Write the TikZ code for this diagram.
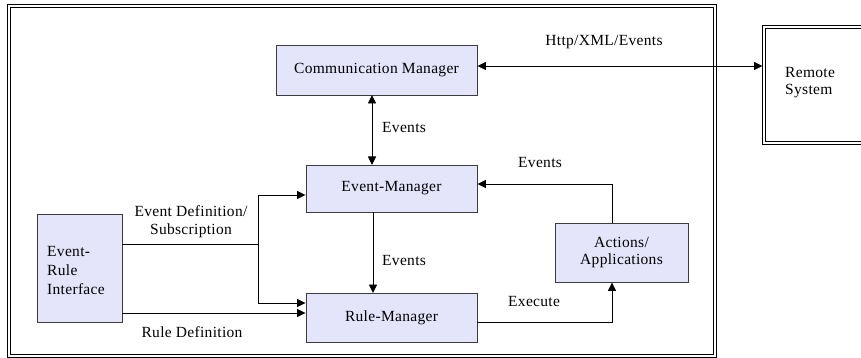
\documentclass[tikz,border=0pt]{standalone}
\usepackage{fontspec}
\setmainfont[LetterSpace=2]{Liberation Serif}
\usetikzlibrary{arrows.meta}
\definecolor{boxfill}{RGB}{228,228,250}
\definecolor{boxline}{RGB}{60,60,60}
\begin{document}
\begin{tikzpicture}[x=1pt,y=-1pt,
  mbox/.style={draw=boxline,line width=0.9pt,fill=boxfill,inner sep=0pt},
  lbl/.style={font=\fontsize{15.5}{18}\selectfont,inner sep=0pt},
  tip/.style={Triangle[length=8.5pt,width=8pt]},
  conn/.style={line width=0.9pt,-{Triangle[length=8.5pt,width=8pt]}},
  biconn/.style={line width=0.9pt,{Triangle[length=8.5pt,width=8pt]}-{Triangle[length=8.5pt,width=8pt]}},
  frame/.style={draw=black,double=white,double distance=2.2pt,line width=0.8pt}
]
\useasboundingbox (0,0) rectangle (861,358);
% outer frame
\draw[frame] (9,6) rectangle (715,356);
% remote system
\draw[frame] (764,27) rectangle (880,143);
\node[lbl,anchor=west,align=left] (remote) at (785,83) {Remote\\[-1pt]System};
\coordinate (remoteW) at (762.5,66);
% boxes
\node[mbox,minimum width=201pt,minimum height=50pt] (comm) at (376.5,70) {};
\node[lbl] at (comm.center) {Communication Manager};
\node[mbox,minimum width=171pt,minimum height=47pt] (evm) at (391.5,188.5) {};
\node[lbl] at (evm.center) {Event-Manager};
\node[mbox,minimum width=171pt,minimum height=49pt] (rm) at (391.5,317.5) {};
\node[lbl] at (rm.center) {Rule-Manager};
\node[mbox,minimum width=133pt,minimum height=59pt] (act) at (621.5,252.5) {};
\node[lbl,align=center] at (act.center) {Actions/\\[-1pt]Applications};
\node[mbox,minimum width=85pt,minimum height=108pt] (eri) at (79.5,268) {};
\node[lbl,anchor=west,align=left] at (47,270) {Event-\\[1pt]Rule\\[1pt]Interface};
% connectors
\draw[biconn] (comm.east|-0,66) -- (remoteW);
\node[lbl] at (604,42) {Http/XML/Events};
\draw[biconn] (372,95) -- (372,165);
\node[lbl,anchor=west] at (382,128) {Events};
\draw[conn] (373,212) -- (373,293);
\node[lbl,anchor=west] at (382,260) {Events};
\draw[conn] (act.north-|612,0) -- (612,184) -- (evm.east|-0,184);
\node[lbl,anchor=west] at (518,163) {Events};
\draw[conn] (rm.east|-0,322) -- (612,322) -- (act.south-|612,0);
\node[lbl,anchor=west] at (508,301) {Execute};
\coordinate (j) at (258,244);
\draw[line width=0.9pt] (eri.east|-0,244) -- (j);
\draw[conn] (j) -- (258,195) -- (evm.west|-0,195);
\draw[conn] (j) -- (258,303) -- (rm.west|-0,303);
\draw[conn] (eri.east|-0,313) -- (rm.west|-0,313);
\node[lbl,align=center] at (191,222) {Event Definition/\\[0pt]Subscription};
\node[lbl] at (192,332) {Rule Definition};
\end{tikzpicture}
\end{document}
